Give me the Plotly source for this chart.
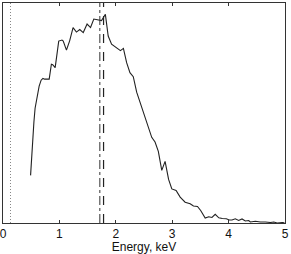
import plotly.graph_objects as go

energy_kev = [0.489, 0.525, 0.548, 0.569, 0.609, 0.641, 0.676, 0.708, 0.738, 0.797,
              0.819, 0.858, 0.881, 0.925, 0.988, 1.046, 1.068, 1.125, 1.183, 1.242,
              1.302, 1.361, 1.423, 1.491, 1.552, 1.610, 1.687, 1.747, 1.815, 1.865,
              1.925, 2.014, 2.082, 2.135, 2.192, 2.251, 2.310, 2.370, 2.429, 2.488,
              2.548, 2.607, 2.637, 2.696, 2.754, 2.815, 2.874, 2.936, 2.993, 3.069,
              3.141, 3.229, 3.318, 3.377, 3.448, 3.505, 3.585, 3.648, 3.705, 3.763,
              3.826, 3.888, 3.959, 4.012, 4.060, 4.119, 4.178, 4.238, 4.297, 4.356,
              4.386, 4.475, 4.564, 4.653, 4.742, 4.801, 4.861, 4.950, 4.991]
counts = [47.5, 87.5, 100.8, 114.5, 126.5, 136.5, 142.5, 144.2, 143.5, 143.0,
          143.5, 158.5, 158.0, 155.0, 181.5, 182.5, 181.5, 172.5, 182.0, 195.0,
          190.5, 193.0, 190.0, 198.5, 195.0, 203.5, 202.5, 202.0, 208.2, 186.5,
          178.5, 175.0, 172.0, 174.2, 160.0, 150.0, 146.0, 130.5, 121.0, 111.0,
          101.5, 91.5, 85.5, 80.8, 71.5, 52.5, 61.5, 43.5, 34.0, 32.5,
          25.8, 20.8, 19.2, 17.0, 16.5, 12.5, 5.0, 6.2, 5.5, 8.7,
          5.2, 4.5, 4.2, 3.0, 3.0, 4.2, 2.5, 4.0, 2.0, 2.5,
          1.0, 1.8, 1.0, 1.0, 0.5, 1.0, 0.0, 0.5, 0.2]

threshold_kev = 0.133
marker_dashdot_kev = 1.717
marker_dash_kev = 1.783

x_ticks = [0, 1, 2, 3, 4, 5]
x_tick_labels = ["0", "1", "2", "3", "4", "5"]

fig = go.Figure()
fig.add_trace(go.Scatter(x=energy_kev, y=counts, mode="lines",
                         line=dict(color="#222222", width=1.1), showlegend=False))

fig.add_vline(x=threshold_kev, line=dict(color="#888888", width=1, dash="1px,2px"))
fig.add_vline(x=marker_dashdot_kev, line=dict(color="#333333", width=1, dash="dashdot"))
fig.add_vline(x=marker_dash_kev, line=dict(color="#222222", width=1.2, dash="dash"))

axis_common = dict(showgrid=False, zeroline=False, showline=True, linecolor="#333333",
                   linewidth=1)
fig.update_xaxes(range=[0, 5], tickvals=x_ticks, ticktext=x_tick_labels,
                 ticks="inside", ticklen=3, tickcolor="#333333", mirror="ticks",
                 ticklabeloverflow="allow",
                 title=dict(text="Energy, keV", font=dict(size=12, color="#111111"), standoff=0),
                 tickfont=dict(size=12, color="#111111"), automargin=False, **axis_common)
fig.update_yaxes(range=[0, 219.5], showticklabels=False, ticks="", automargin=False,
                 mirror=True, **axis_common)

fig.update_layout(width=291, height=254, margin=dict(l=3, r=6, t=3, b=31),
                  paper_bgcolor="white", plot_bgcolor="white",
                  font=dict(family="Liberation Sans, Arial, sans-serif"))
fig.write_html("out.html", config={"displayModeBar": False},
               post_script="document.body.style.margin='0';document.body.style.overflow='hidden';")
